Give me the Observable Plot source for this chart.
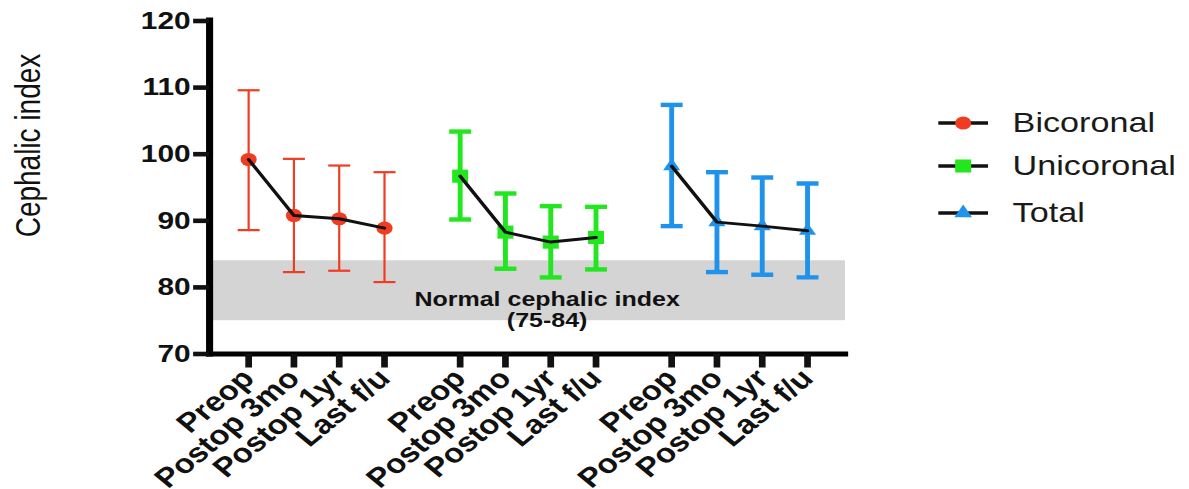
<!DOCTYPE html>
<html>
<head>
<meta charset="utf-8">
<script src="https://cdn.jsdelivr.net/npm/d3@7"></script>
<script src="https://cdn.jsdelivr.net/npm/@observablehq/plot@0.6"></script>
<style>
  html, body { margin: 0; padding: 0; background: #fff; overflow: hidden; }
  #stage { position: relative; width: 975px; height: 489px; transform: scaleX(1.22); transform-origin: 0 0; }
  #chart { position: absolute; left: 0; top: 0; width: 740px; }
  #legend { position: absolute; left: 0; top: 0; font-family: "Liberation Sans", Arial, Helvetica, sans-serif; }
  .row { position: absolute; display: flex; align-items: center; height: 40px; }
  .row span { font-size: 28px; color: #1a1a1a; margin-left: 20px; white-space: nowrap; }
</style>
</head>
<body>
<div id="stage">
  <div id="chart"></div>
  <div id="legend"></div>
</div>
<script>
// ---- data ----
const categories = ["Preop", "Postop 3mo", "Postop 1yr", "Last f/u"];
const groups = ["Bicoronal", "Unicoronal", "Total"];
const colors = ["#f03c20", "#22e61e", "#1f93ec"];
const symbols = ["circle", "square", "triangle"];

const bicoronalMean = [99.2, 90.8, 90.3, 88.9];
const bicoronalHigh = [109.6, 99.3, 98.3, 97.3];
const bicoronalLow  = [88.6, 82.3, 82.5, 80.8];

const unicoronalMean = [96.7, 88.3, 86.8, 87.5];
const unicoronalHigh = [103.4, 94.1, 92.2, 92.1];
const unicoronalLow  = [90.2, 82.8, 81.5, 82.7];

const totalMean = [98.2, 89.8, 89.2, 88.5];
const totalHigh = [107.4, 97.3, 96.5, 95.6];
const totalLow  = [89.2, 82.3, 81.9, 81.5];

const yTicks = [70, 80, 90, 100, 110, 120];
const normalRange = [75, 84];
const normalLabel = "Normal cephalic index\n(75-84)";
const yLabel = "Cephalic index";

// ---- layout / styling ----
const means = [bicoronalMean, unicoronalMean, totalMean];
const highs = [bicoronalHigh, unicoronalHigh, totalHigh];
const lows = [bicoronalLow, unicoronalLow, totalLow];
const barWidths = [1.8, 4, 4];
const groupStride = 4.67;
const xDomain = [-0.862, 13.18];
const yDomain = [70, 120];
const font = '"Liberation Sans", Arial, Helvetica, sans-serif';

const rows = [];
groups.forEach((g, gi) => {
  categories.forEach((c, ci) => {
    rows.push({group: g, gi, category: c, pos: gi * groupStride + ci,
      mean: means[gi][ci], hi: highs[gi][ci], lo: lows[gi][ci]});
  });
});
const tickPositions = rows.map(d => d.pos);
const tickLabel = new Map(rows.map(d => [d.pos, d.category]));

const capSymbol = {
  draw(context, size) {
    const r = Math.sqrt(size / Math.PI);
    context.moveTo(-r, 0);
    context.lineTo(r, 0);
  }
};

const seriesMarks = [];
groups.forEach((g, gi) => {
  const d = rows.filter(r => r.gi === gi);
  seriesMarks.push(
    Plot.ruleX(d, {x: "pos", y1: "lo", y2: "hi", stroke: colors[gi], strokeWidth: barWidths[gi]}),
    Plot.dot(d, {x: "pos", y: "hi", symbol: capSymbol, r: 9, stroke: colors[gi], strokeWidth: barWidths[gi] + 0.4, fill: "none"}),
    Plot.dot(d, {x: "pos", y: "lo", symbol: capSymbol, r: 9, stroke: colors[gi], strokeWidth: barWidths[gi] + 0.4, fill: "none"})
  );
});
const markerR = [6.6, 7.4, 5.2];
groups.forEach((g, gi) => {
  const d = rows.filter(r => r.gi === gi);
  seriesMarks.push(Plot.dot(d, {x: "pos", y: "mean", symbol: symbols[gi], r: markerR[gi], fill: colors[gi], stroke: "none"}));
});

const chart = Plot.plot({
  width: 740,
  height: 489,
  marginTop: 20.5,
  marginBottom: 135.5,
  marginLeft: 171.3,
  marginRight: 47.4,
  style: {fontFamily: font, fontWeight: "bold", color: "#111", background: "transparent"},
  x: {type: "linear", domain: xDomain},
  y: {domain: yDomain},
  marks: [
    Plot.rect([normalRange], {y1: d => d[0], y2: d => d[1], fill: "#d4d4d4"}),
    Plot.text([normalLabel], {frameAnchor: "middle", y: () => (normalRange[0] + normalRange[1]) / 2, dx: 16, dy: 19,
      fontSize: 20.5, fontWeight: "bold", lineHeight: 1.05, fill: "#111"}),
    ...seriesMarks,
    Plot.line(rows, {x: "pos", y: "mean", z: "group", stroke: "#111", strokeWidth: 3}),
    Plot.ruleX([xDomain[0]], {stroke: "#000", strokeWidth: 5.8, strokeLinecap: "square"}),
    Plot.ruleY([yDomain[0]], {stroke: "#000", strokeWidth: 5.2, strokeLinecap: "square"}),
    Plot.axisY({ticks: yTicks, tickSize: 13, tickPadding: 2.5, strokeWidth: 4.6, fontSize: 24.5, fontWeight: "bold", label: null, fill: "#111"}),
    Plot.axisX({ticks: tickPositions, tickFormat: d => tickLabel.get(d), tickSize: 14, tickPadding: 6, tickRotate: -45,
      strokeWidth: 5.5, fontSize: 27, fontWeight: "bold", label: null, fill: "#111"}),
    Plot.text([yLabel], {frameAnchor: "left", textAnchor: "middle", rotate: -90, dx: -148.3, dy: -42, fontSize: 28, fontWeight: "normal", fill: "#111"})
  ]
});
document.getElementById("chart").appendChild(chart);

// ---- legend ----
const legend = d3.select("#legend");
const legendCenters = [123, 166, 213];
groups.forEach((g, gi) => {
  const row = legend.append("div").attr("class", "row")
    .style("left", "769px").style("top", (legendCenters[gi] - 20) + "px");
  const svg = row.append("svg").attr("width", 41).attr("height", 40);
  svg.append("line").attr("x1", 0).attr("x2", 41).attr("y1", 20).attr("y2", 20)
    .attr("stroke", "#111").attr("stroke-width", 3.4);
  const sym = d3.symbol().type(gi === 0 ? d3.symbolCircle : gi === 1 ? d3.symbolSquare : d3.symbolTriangle)
    .size(Math.PI * [6.6, 7.4, 5.4][gi] ** 2);
  svg.append("path").attr("d", sym()).attr("transform", "translate(20.5,20)").attr("fill", colors[gi]);
  row.append("span").text(g);
});
</script>
</body>
</html>
